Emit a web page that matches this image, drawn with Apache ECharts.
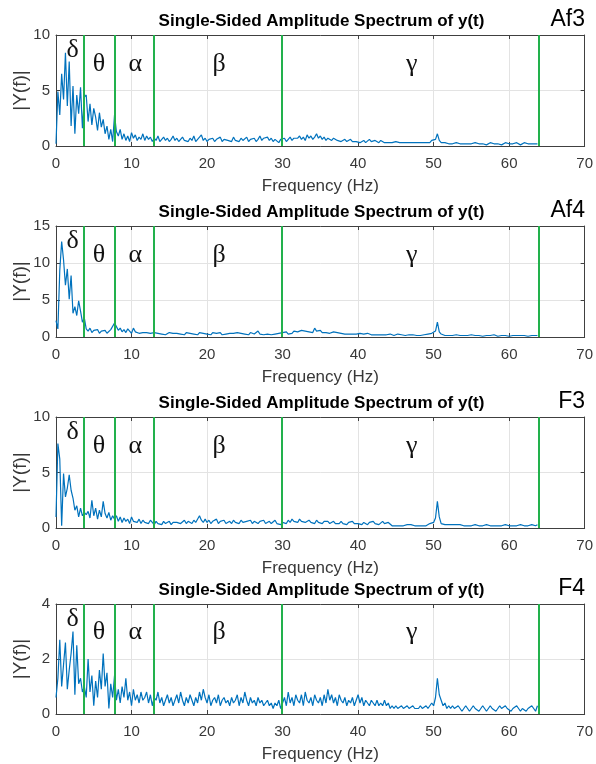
<!DOCTYPE html>
<html>
<head>
<meta charset="utf-8">
<title>Single-Sided Amplitude Spectrum</title>
<script src="https://cdn.jsdelivr.net/npm/echarts@6/dist/echarts.min.js"></script>
<style>
  html, body { margin: 0; padding: 0; background: #fff; }
  #chart { width: 596px; height: 764px; }
</style>
</head>
<body>
<div id="chart"></div>
<script>
// spectral bins are 0.25 Hz apart, starting at 0 Hz (16 values per row = 4 Hz)
var freqStep = 0.25;

var channels = ['Af3', 'Af4', 'F3', 'F4'];

var af3 = [
  0.2, 4.9, 2.8, 6.5, 4.2, 8.4, 3.6, 7.6, 1.8, 5.4, 1.1, 4.6, 2.9, 5.3, 1.6, 4.4,
  4.6, 2.2, 3.8, 1.9, 3.4, 2.6, 1.4, 3.0, 1.7, 2.4, 1.1, 1.8, 0.6, 1.5, 0.4, 2.8,
  1.3, 0.9, 1.5, 0.6, 1.1, 0.5, 0.9, 0.4, 1.2, 0.7, 1.0, 0.5, 0.8, 0.6, 1.1, 0.5,
  0.9, 0.6, 0.8, 0.4, 0.7, 0.5, 0.9, 0.4, 0.6, 0.8, 0.5, 0.7, 0.4, 0.6, 0.9, 0.5,
  0.7, 0.4, 0.6, 0.8, 0.5, 0.6, 0.4, 0.7, 0.5, 0.9, 0.4, 0.6, 0.5, 1.0, 0.5, 0.7,
  0.4, 0.6, 0.5, 0.7, 0.4, 0.6, 0.5, 0.8, 0.4, 0.6, 0.7, 0.5, 0.6, 0.4, 0.8, 0.5,
  0.6, 0.4, 0.7, 0.5, 0.6, 0.8, 0.4, 0.6, 0.5, 0.7, 0.4, 0.6, 0.9, 0.5, 0.7, 0.6,
  0.8, 0.5, 0.7, 0.4, 0.6, 0.5, 0.3, 0.6, 0.5, 0.7, 0.4, 0.6, 0.8, 0.5, 0.7, 0.6,
  0.7, 0.9, 0.6, 0.8, 0.5, 1.0, 0.7, 0.9, 0.6, 0.8, 1.1, 0.7, 0.9, 0.6, 0.8, 0.5,
  0.7, 0.6, 0.5, 0.7, 0.6, 0.5, 0.6, 0.4, 0.5, 0.6, 0.4, 0.5, 0.6, 0.4, 0.5, 0.4,
  0.5, 0.3, 0.4, 0.5, 0.3, 0.4, 0.6, 0.4, 0.3, 0.5, 0.4, 0.3, 0.5, 0.4, 0.3, 0.4,
  0.3, 0.4, 0.3, 0.2, 0.4, 0.3, 0.3, 0.2, 0.3, 0.4, 0.3, 0.2, 0.3, 0.2, 0.3, 0.2,
  0.3, 0.2, 0.3, 0.2, 0.3, 0.4, 0.3, 0.5, 0.4, 0.6, 1.1, 0.5, 0.3, 0.2, 0.3, 0.2,
  0.2, 0.3, 0.2, 0.2, 0.3, 0.2, 0.2, 0.3, 0.2, 0.1, 0.2, 0.3, 0.2, 0.2, 0.3, 0.2,
  0.2, 0.3, 0.2, 0.2, 0.1, 0.2, 0.3, 0.2, 0.2, 0.3, 0.2, 0.2, 0.1, 0.2, 0.3, 0.2,
  0.2, 0.3, 0.2, 0.2, 0.3, 0.2, 0.1, 0.2, 0.3, 0.2, 0.2, 0.1, 0.2, 0.3, 0.2, 0.2
];

var af4 = [
  2.2, 1.1, 9.0, 12.9, 10.4, 7.0, 9.2, 5.1, 8.3, 3.2, 4.1, 2.9, 4.9, 3.5, 2.0, 2.6,
  1.1, 0.8, 1.2, 0.6, 0.9, 0.7, 1.0, 0.5, 0.8, 0.6, 0.9, 0.5, 0.7, 1.0, 0.8, 1.9,
  1.4, 0.9, 1.2, 0.7, 1.0, 0.6, 1.1, 0.8, 0.5, 1.2, 0.7, 0.9, 0.5, 0.7, 0.6, 0.5,
  0.6, 0.4, 0.5, 0.3, 0.6, 0.4, 0.5, 0.7, 0.4, 0.6, 0.3, 0.5, 0.6, 0.4, 0.5, 0.3,
  0.5, 0.6, 0.4, 0.5, 0.3, 0.6, 0.4, 0.5, 0.7, 0.4, 0.5, 0.3, 0.6, 0.4, 0.5, 0.6,
  0.4, 0.5, 0.3, 0.6, 0.4, 0.5, 0.4, 0.6, 0.3, 0.5, 0.4, 0.6, 0.5, 0.3, 0.5, 0.4,
  0.6, 0.4, 0.5, 0.7, 0.4, 0.5, 0.3, 0.6, 0.5, 0.4, 0.6, 0.8, 0.4, 0.5, 0.3, 0.5,
  0.4, 0.6, 0.3, 0.5, 0.4, 0.3, 0.5, 0.4, 0.6, 0.5, 0.7, 0.4, 0.6, 0.5, 0.8, 0.6,
  0.7, 0.6, 0.9, 0.7, 0.8, 1.0, 0.7, 0.9, 0.6, 1.2, 0.8, 0.7, 0.9, 0.6, 0.8, 0.6,
  0.7, 0.5, 0.6, 0.7, 0.5, 0.6, 0.4, 0.5, 0.6, 0.4, 0.5, 0.4, 0.6, 0.4, 0.5, 0.4,
  0.4, 0.5, 0.3, 0.4, 0.3, 0.5, 0.4, 0.3, 0.4, 0.3, 0.5, 0.3, 0.4, 0.3, 0.4, 0.3,
  0.3, 0.4, 0.3, 0.2, 0.3, 0.4, 0.2, 0.3, 0.3, 0.2, 0.4, 0.3, 0.2, 0.3, 0.3, 0.2,
  0.3, 0.2, 0.3, 0.3, 0.2, 0.4, 0.3, 0.5, 0.4, 0.8, 2.0, 0.7, 0.4, 0.3, 0.2, 0.3,
  0.2, 0.3, 0.2, 0.2, 0.3, 0.2, 0.2, 0.1, 0.2, 0.3, 0.2, 0.2, 0.3, 0.2, 0.2, 0.1,
  0.2, 0.2, 0.1, 0.2, 0.2, 0.1, 0.2, 0.2, 0.3, 0.2, 0.1, 0.2, 0.2, 0.1, 0.2, 0.2,
  0.1, 0.2, 0.2, 0.1, 0.2, 0.3, 0.2, 0.1, 0.2, 0.2, 0.1, 0.2, 0.2, 0.1, 0.2, 0.2
];

var f3 = [
  1.0, 7.6, 6.2, 0.2, 4.9, 2.8, 3.6, 4.8, 3.4, 2.7, 1.6, 2.0, 1.0, 1.8, 1.1, 1.4,
  1.2, 1.5, 0.9, 2.5, 1.1, 1.8, 0.8, 1.6, 1.0, 2.4, 1.3, 0.9, 1.4, 0.7, 1.1, 0.8,
  1.1, 0.6, 1.0, 0.5, 0.9, 0.6, 0.8, 0.4, 1.0, 0.6, 0.7, 0.5, 0.8, 0.4, 0.7, 0.5,
  0.6, 0.4, 0.7, 0.5, 0.3, 0.6, 0.4, 0.5, 0.3, 0.6, 0.4, 0.5, 0.6, 0.3, 0.5, 0.4,
  0.5, 0.6, 0.4, 0.5, 0.7, 0.4, 0.6, 0.5, 0.4, 0.7, 0.5, 0.6, 1.1, 0.7, 0.5, 0.8,
  0.5, 0.7, 0.4, 0.6, 0.5, 0.8, 0.4, 0.6, 0.5, 0.7, 0.4, 0.5, 0.6, 0.4, 0.7, 0.5,
  0.6, 0.4, 0.7, 0.5, 0.4, 0.6, 0.5, 0.7, 0.4, 0.6, 0.5, 0.4, 0.6, 0.5, 0.7, 0.4,
  0.5, 0.6, 0.4, 0.5, 0.7, 0.4, 0.5, 0.3, 0.5, 0.6, 0.4, 0.7, 0.5, 0.8, 0.6, 0.7,
  0.5, 0.8, 0.6, 0.7, 0.5, 0.6, 0.7, 0.5, 0.6, 0.4, 0.7, 0.5, 0.6, 0.4, 0.6, 0.5,
  0.6, 0.4, 0.5, 0.6, 0.4, 0.5, 0.4, 0.6, 0.4, 0.5, 0.3, 0.5, 0.4, 0.6, 0.4, 0.5,
  0.4, 0.5, 0.3, 0.5, 0.4, 0.3, 0.5, 0.4, 0.6, 0.4, 0.5, 0.3, 0.4, 0.6, 0.4, 0.3,
  0.5, 0.4, 0.2, 0.3, 0.2, 0.3, 0.2, 0.3, 0.2, 0.2, 0.3, 0.2, 0.3, 0.2, 0.2, 0.3,
  0.2, 0.3, 0.2, 0.3, 0.2, 0.3, 0.4, 0.3, 0.5, 0.9, 2.4, 1.0, 0.4, 0.5, 0.3, 0.2,
  0.3, 0.2, 0.3, 0.2, 0.3, 0.2, 0.3, 0.4, 0.2, 0.3, 0.2, 0.3, 0.2, 0.2, 0.3, 0.2,
  0.2, 0.3, 0.2, 0.2, 0.3, 0.2, 0.2, 0.3, 0.2, 0.1, 0.2, 0.3, 0.2, 0.2, 0.3, 0.2,
  0.2, 0.3, 0.2, 0.1, 0.2, 0.2, 0.3, 0.2, 0.2, 0.3, 0.2, 0.2, 0.3, 0.2, 0.2, 0.3
];

var f4 = [
  0.6, 1.3, 2.7, 1.0, 1.8, 2.6, 0.9, 1.6, 2.2, 3.0, 0.7, 2.5, 1.1, 1.3, 0.8, 1.0,
  0.6, 2.0, 0.8, 1.4, 0.3, 1.2, 0.6, 1.6, 0.9, 2.2, 1.0, 1.5, 0.2, 1.1, 0.6, 1.4,
  0.5, 0.9, 0.4, 1.0, 0.6, 1.3, 0.5, 0.8, 0.3, 0.9, 0.5, 0.7, 0.4, 0.8, 0.5, 0.6,
  0.8, 0.4, 0.7, 0.3, 0.6, 0.5, 0.8, 0.4, 0.6, 0.3, 0.5, 0.7, 0.4, 0.6, 0.3, 0.5,
  0.7, 0.4, 0.8, 0.5, 0.3, 0.6, 0.4, 0.7, 0.5, 0.3, 0.6, 0.4, 0.8, 0.5, 0.9, 0.6,
  0.4, 0.7, 0.3, 0.5, 0.6, 0.4, 0.7, 0.3, 0.5, 0.6, 0.4, 0.5, 0.3, 0.6, 0.4, 0.5,
  0.7, 0.3, 0.6, 0.4, 0.8, 0.5, 0.3, 0.6, 0.4, 0.5, 0.3, 0.6, 0.4, 0.5, 0.3, 0.4,
  0.5, 0.3, 0.4, 0.2, 0.4, 0.3, 0.5, 0.2, 0.4, 0.6, 0.3, 0.8, 0.4, 0.6, 0.3, 0.7,
  0.5, 0.4, 0.7, 0.3, 0.8, 0.5, 0.4, 0.6, 0.3, 0.7, 0.5, 0.4, 0.6, 0.3, 0.7, 0.4,
  0.9, 0.5, 0.7, 0.4, 0.6, 0.3, 0.7, 0.5, 0.4, 0.6, 0.3, 0.5, 0.4, 0.6, 0.3, 0.5,
  0.7, 0.4, 0.6, 0.3, 0.5, 0.4, 0.3, 0.5, 0.4, 0.3, 0.5, 0.3, 0.4, 0.3, 0.5, 0.3,
  0.4, 0.2, 0.3, 0.2, 0.3, 0.2, 0.2, 0.3, 0.2, 0.2, 0.3, 0.2, 0.2, 0.3, 0.2, 0.2,
  0.2, 0.3, 0.2, 0.2, 0.3, 0.2, 0.3, 0.4, 0.3, 0.6, 1.3, 0.7, 0.5, 0.3, 0.4, 0.2,
  0.3, 0.2, 0.3, 0.2, 0.2, 0.3, 0.2, 0.1, 0.2, 0.3, 0.2, 0.1, 0.2, 0.3, 0.2, 0.2,
  0.1, 0.2, 0.3, 0.2, 0.1, 0.2, 0.3, 0.2, 0.2, 0.1, 0.2, 0.3, 0.2, 0.2, 0.3, 0.2,
  0.2, 0.1, 0.2, 0.2, 0.3, 0.2, 0.1, 0.2, 0.2, 0.1, 0.2, 0.2, 0.3, 0.2, 0.1, 0.3
];

var spectra = [af3, af4, f3, f4];
var yMax = [10, 15, 10, 4];
var yStep = [5, 5, 5, 2];
var xMax = 70;
var xStep = 10;

// EEG band edges (Hz) and band names
var bandEdges = [3.7, 7.8, 12.9, 29.9, 63.9];
var bandNames = ['δ', 'θ', 'α', 'β', 'γ'];
var bandLabelX = [2.2, 5.7, 10.5, 21.6, 47.1];
var bandLabelYFrac = [0.86, 0.74, 0.74, 0.74, 0.74];

var titleText = 'Single-Sided Amplitude Spectrum of y(t)';

// layout
var gridLeft = 56, gridRight = 9, gridHeight = 111;
var gridTops = [35, 226, 417, 604];

var axisColor = '#404040';
var labelColor = '#383838';

var myChart = echarts.init(document.getElementById('chart'), null, {renderer: 'canvas'});

var grids = [], xAxes = [], yAxes = [], series = [], titles = [];

channels.forEach(function(ch, i){
  grids.push({left: gridLeft, right: gridRight, top: gridTops[i], height: gridHeight});

  titles.push({
    text: titleText,
    left: gridLeft + (596 - gridLeft - gridRight) / 2,
    textAlign: 'center',
    top: gridTops[i] - 22,
    padding: 0,
    textStyle: {fontFamily: 'Liberation Sans', fontSize: 17, fontWeight: 'bold', color: '#000'}
  });
  titles.push({
    text: ch,
    right: 11,
    top: gridTops[i] - 27,
    padding: 0,
    textStyle: {fontFamily: 'Liberation Sans', fontSize: 23, fontWeight: 'normal', color: '#000'}
  });

  // bottom x axis
  xAxes.push({
    type: 'value', gridIndex: i, position: 'bottom',
    min: 0, max: xMax, interval: xStep,
    name: 'Frequency (Hz)', nameLocation: 'middle', nameGap: 32, nameMoveOverlap: false,
    nameTextStyle: {fontFamily: 'Liberation Sans', fontSize: 17, color: labelColor},
    axisLine: {show: true, onZero: false, lineStyle: {color: axisColor, width: 1}},
    axisTick: {show: true, inside: true, length: 4, lineStyle: {color: axisColor}},
    axisLabel: {fontFamily: 'Liberation Sans', fontSize: 15, color: labelColor, margin: 10},
    splitLine: {show: true, lineStyle: {color: '#e3e3e3', width: 1}}
  });
  // top x axis (box)
  xAxes.push({
    type: 'value', gridIndex: i, position: 'top',
    min: 0, max: xMax, interval: xStep,
    axisLine: {show: true, onZero: false, lineStyle: {color: axisColor, width: 1}},
    axisTick: {show: true, inside: true, length: 4, lineStyle: {color: axisColor}},
    axisLabel: {show: false},
    splitLine: {show: false}
  });
  // left y axis
  yAxes.push({
    type: 'value', gridIndex: i, position: 'left',
    min: 0, max: yMax[i], interval: yStep[i],
    name: '|Y(f)|', nameLocation: 'middle', nameGap: 26, nameMoveOverlap: false,
    nameTextStyle: {fontFamily: 'Liberation Sans', fontSize: 19, color: labelColor},
    axisLine: {show: true, onZero: false, lineStyle: {color: axisColor, width: 1}},
    axisTick: {show: true, inside: true, length: 4, lineStyle: {color: axisColor}},
    axisLabel: {fontFamily: 'Liberation Sans', fontSize: 15, color: labelColor, margin: 6},
    splitLine: {show: true, lineStyle: {color: '#e3e3e3', width: 1}}
  });
  // right y axis (box)
  yAxes.push({
    type: 'value', gridIndex: i, position: 'right',
    min: 0, max: yMax[i], interval: yStep[i],
    axisLine: {show: true, onZero: false, lineStyle: {color: axisColor, width: 1}},
    axisTick: {show: true, inside: true, length: 4, lineStyle: {color: axisColor}},
    axisLabel: {show: false},
    splitLine: {show: false}
  });

  var pts = spectra[i].map(function(v, k){ return [k * freqStep, v]; });

  series.push({
    name: ch,
    type: 'line',
    xAxisIndex: 2 * i,
    yAxisIndex: 2 * i,
    data: pts,
    showSymbol: false,
    symbol: 'none',
    lineStyle: {color: '#0072BD', width: 1.2},
    z: 3,
    markLine: {
      silent: true,
      symbol: ['none', 'none'],
      label: {show: false},
      lineStyle: {color: '#22b14c', width: 2, type: 'solid'},
      data: bandEdges.map(function(x){ return {xAxis: x}; }),
      z: 4
    },
    markPoint: {
      silent: true,
      symbol: 'circle',
      symbolSize: 0,
      label: {
        show: true, position: 'inside', formatter: '{b}',
        fontFamily: 'Liberation Serif', fontSize: 26, color: '#111'
      },
      data: bandNames.map(function(b, k){
        return {name: b, coord: [bandLabelX[k], bandLabelYFrac[k] * yMax[i]]};
      })
    }
  });
});

var option = {
  backgroundColor: '#fff',
  animation: false,
  title: titles,
  grid: grids,
  xAxis: xAxes,
  yAxis: yAxes,
  series: series
};
myChart.setOption(option);
</script>
</body>
</html>
